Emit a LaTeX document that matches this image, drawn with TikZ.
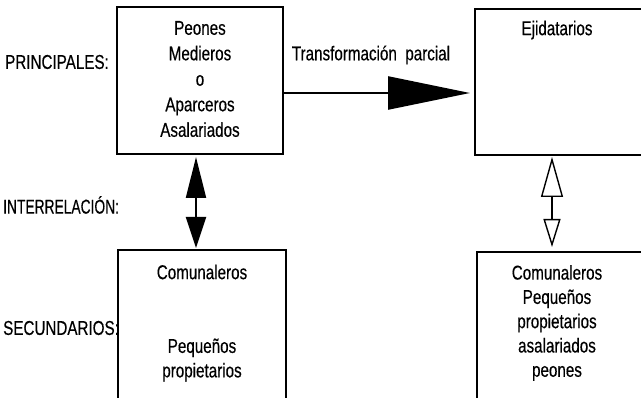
\documentclass[tikz,border=0pt]{standalone}
\usepackage{fontspec}
\setmainfont[FakeStretch=0.76,FakeBold=0.4]{Liberation Sans}
\newfontfamily\narrowlbl[FakeStretch=0.69,FakeBold=0.4]{Liberation Sans}
\usetikzlibrary{arrows.meta}
\begin{document}
\begin{tikzpicture}[x=1pt,y=-1pt,
  font=\fontsize{20}{25.5}\selectfont,
  box/.style={draw, line width=1.3pt, inner sep=0pt, outer sep=0pt},
  txt/.style={inner sep=0pt, align=center},
  lbl/.style={inner sep=0pt, anchor=west}]
\useasboundingbox (0,0) rectangle (641,398);
\clip (0,0) rectangle (641,398);
% boxes
\node[box, minimum width=166pt, minimum height=147pt] (pbox) at (200,80.5) {};
\node[box, minimum width=185pt, minimum height=146pt] (ebox) at (567.5,82) {};
\node[box, minimum width=168pt, minimum height=160pt] (cbox) at (202,330) {};
\node[box, minimum width=183pt, minimum height=158pt] (sbox) at (568.5,331) {};
% box texts
\node[txt] (ptxt) at (200,79) {Peones\\Medieros\\o\\Aparceros\\Asalariados};
\node[txt] (etxt) at (557,30) {Ejidatarios};
\node[txt] (ctxt1) at (202,272) {Comunaleros};
\node[txt, font=\fontsize{20}{24.5}\selectfont] (ctxt2) at (202,360) {Pequeños\\propietarios};
\node[txt, font=\fontsize{20}{24.3}\selectfont] (stxt) at (557,323) {Comunaleros\\Pequeños\\propietarios\\asalariados\\peones};
% left labels
\node[lbl] (lp) at (5,62) {PRINCIPALES:};
\node[lbl, font=\narrowlbl\fontsize{20}{24}\selectfont] (li) at (3,205) {INTERRELACIÓN:};
\node[lbl] (ls) at (3,328) {SECUNDARIOS:};
\node[txt] (lt) at (371,55) {Transformación\ \ parcial};
% connectors
\draw[line width=2.4pt, -{Triangle[length=82pt,width=33pt]}]
  ([yshift=-12.5pt]pbox.east) -- ([xshift=-5pt,yshift=-11pt]ebox.west);
\draw[line width=2pt, {Triangle[length=41pt,width=20pt]}-{Triangle[length=31pt,width=20pt]}]
  ([xshift=-4pt,yshift=-3pt]pbox.south) -- ([xshift=-6pt,yshift=2pt]cbox.north);
\draw[line width=1.4pt, {Triangle[open,length=40pt,width=22pt]}-{Triangle[open,length=28pt,width=17pt]}]
  ([xshift=-15.5pt,yshift=-2pt]ebox.south) -- ([xshift=-16.5pt,yshift=5pt]sbox.north);
\end{tikzpicture}
\end{document}
